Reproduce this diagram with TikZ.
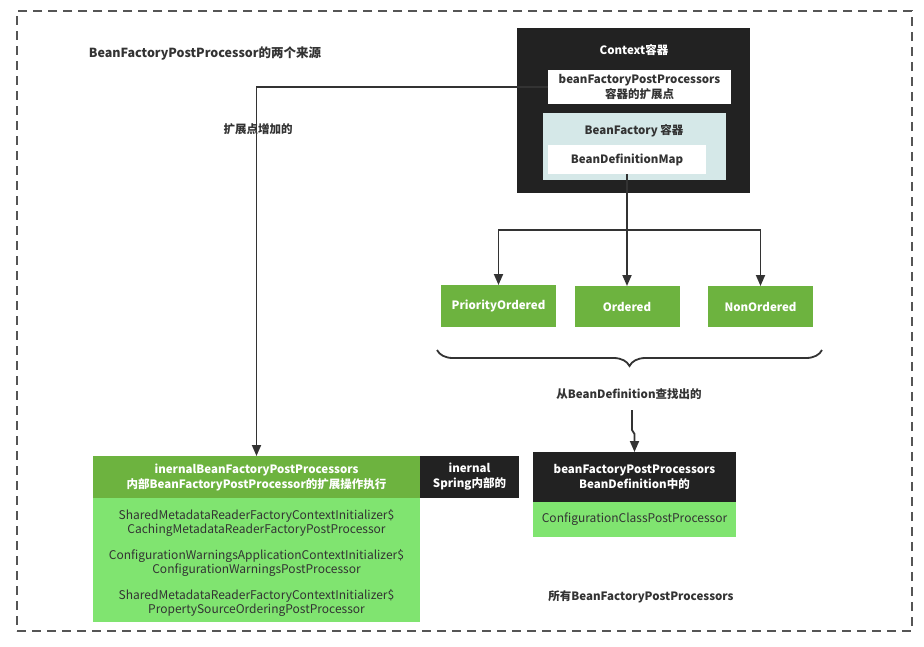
\documentclass[tikz,border=0pt]{standalone}
\usepackage{fontspec}
\setmainfont{Noto Sans CJK SC}
\usetikzlibrary{arrows.meta,decorations.pathreplacing}
\definecolor{dkgreen}{HTML}{6DB33F}
\definecolor{ltgreen}{HTML}{80E470}
\definecolor{blk}{HTML}{222222}
\definecolor{teal0}{HTML}{D5E8E8}
\definecolor{txt}{HTML}{333333}
\definecolor{frame}{HTML}{555555}
\newcommand{\bfs}{\fontsize{11.5}{15}\selectfont\bfseries}
\newcommand{\rgs}{\fontsize{12}{14}\selectfont}
\begin{document}
\begin{tikzpicture}[x=1pt,y=-1pt,
  every node/.style={inner sep=0pt,outer sep=0pt,align=center,font=\bfs},
  bx/.style 2 args={minimum width=#1,minimum height=#2},
  gbox/.style={fill=dkgreen,text=white,font=\bfs},
  lbox/.style={fill=ltgreen,text=txt},
  kbox/.style={fill=blk,text=white,font=\bfs},
  wbox/.style={fill=white,text=txt,font=\bfs},
  lbl/.style={text=txt,font=\bfs},
  conn/.style={draw=txt,line width=1.8pt},
  arr/.style={conn,-{Triangle[length=11pt,width=9pt]}}]
\useasboundingbox (0,0) rectangle (924,646);
\fill[white] (0,0) rectangle (924,646);
\node[draw=frame,dash pattern=on 9pt off 6pt,line width=1.6pt,bx={895}{620}] (fr) at (464.5,321) {};
\node[lbl,font=\fontsize{12.5}{15}\selectfont\bfseries] (title) at (205,54) {BeanFactoryPostProcessor的两个来源};
% context
\node[kbox,bx={233}{165}] (ctx) at (633.5,110.5) {};
\node[kbox] (ctxl) at (634,50) {Context容器};
\node[wbox,bx={183}{34}] (ext) at (639.5,87) {beanFactoryPostProcessors\\容器的扩展点};
\node[fill=teal0,bx={183}{67}] (bf) at (634.5,146.5) {};
\node[lbl] (bfl) at (634,131) {BeanFactory 容器};
\node[wbox,bx={158}{29}] (bdm) at (627,159.5) {BeanDefinitionMap};
% ordered
\node[gbox,bx={115}{42}] (po) at (498.5,306) {PriorityOrdered};
\node[gbox,bx={105}{41}] (ord) at (627,306.5) {Ordered};
\node[gbox,bx={105}{41}] (non) at (760.5,306.5) {NonOrdered};
\coordinate (j) at (627,230);
\draw[conn] (bdm.south) -- (j);
\draw[arr] (j) -| (po.north);
\draw[arr] (j) -- (ord.north);
\draw[arr] (j) -| (non.north);
\coordinate (bl) at (437,350);
\coordinate (br) at (822,350);
\draw[txt,line width=1.8pt,decorate,decoration={brace,mirror,amplitude=16pt}] (bl) -- (br);
\node[lbl] (from) at (629,394) {从BeanDefinition查找出的};
% bean definition
\node[kbox,bx={203}{50}] (bpp) at (634.5,477) {beanFactoryPostProcessors\\BeanDefinition中的};
\node[lbl,fill=ltgreen,bx={203}{35},font=\rgs] (ccp) at (634.5,519.5) {ConfigurationClassPostProcessor};
\coordinate (f1) at (632,410);
\coordinate (f2) at (632,430);
\coordinate (f3) at (634.5,434);
\draw[arr] (f1) -- (f2) -- (f3) -- (bpp.north);
\node[lbl] (all) at (641,597) {所有BeanFactoryPostProcessors};
% internal
\node[gbox,bx={327}{42}] (ine) at (256.5,477) {inernalBeanFactoryPostProcessors\\内部BeanFactoryPostProcessor的扩展操作执行};
\node[kbox,bx={99}{42}] (spr) at (469.5,477) {inernal\\Spring内部的};
\node[lbox,bx={327}{124}] (lst) at (256.5,560) {};
\node[text=txt,font=\rgs] (l1) at (256.5,522.5) {SharedMetadataReaderFactoryContextInitializer\$\\CachingMetadataReaderFactoryPostProcessor};
\node[text=txt,font=\rgs] (l2) at (256.5,562.5) {ConfigurationWarningsApplicationContextInitializer\$\\ConfigurationWarningsPostProcessor};
\node[text=txt,font=\rgs] (l3) at (256.5,602.5) {SharedMetadataReaderFactoryContextInitializer\$\\PropertySourceOrderingPostProcessor};
\draw[arr] (ext.west) -| (ine.north);
\node[lbl] (ext2) at (258,129) {扩展点增加的};
\end{tikzpicture}
\end{document}
